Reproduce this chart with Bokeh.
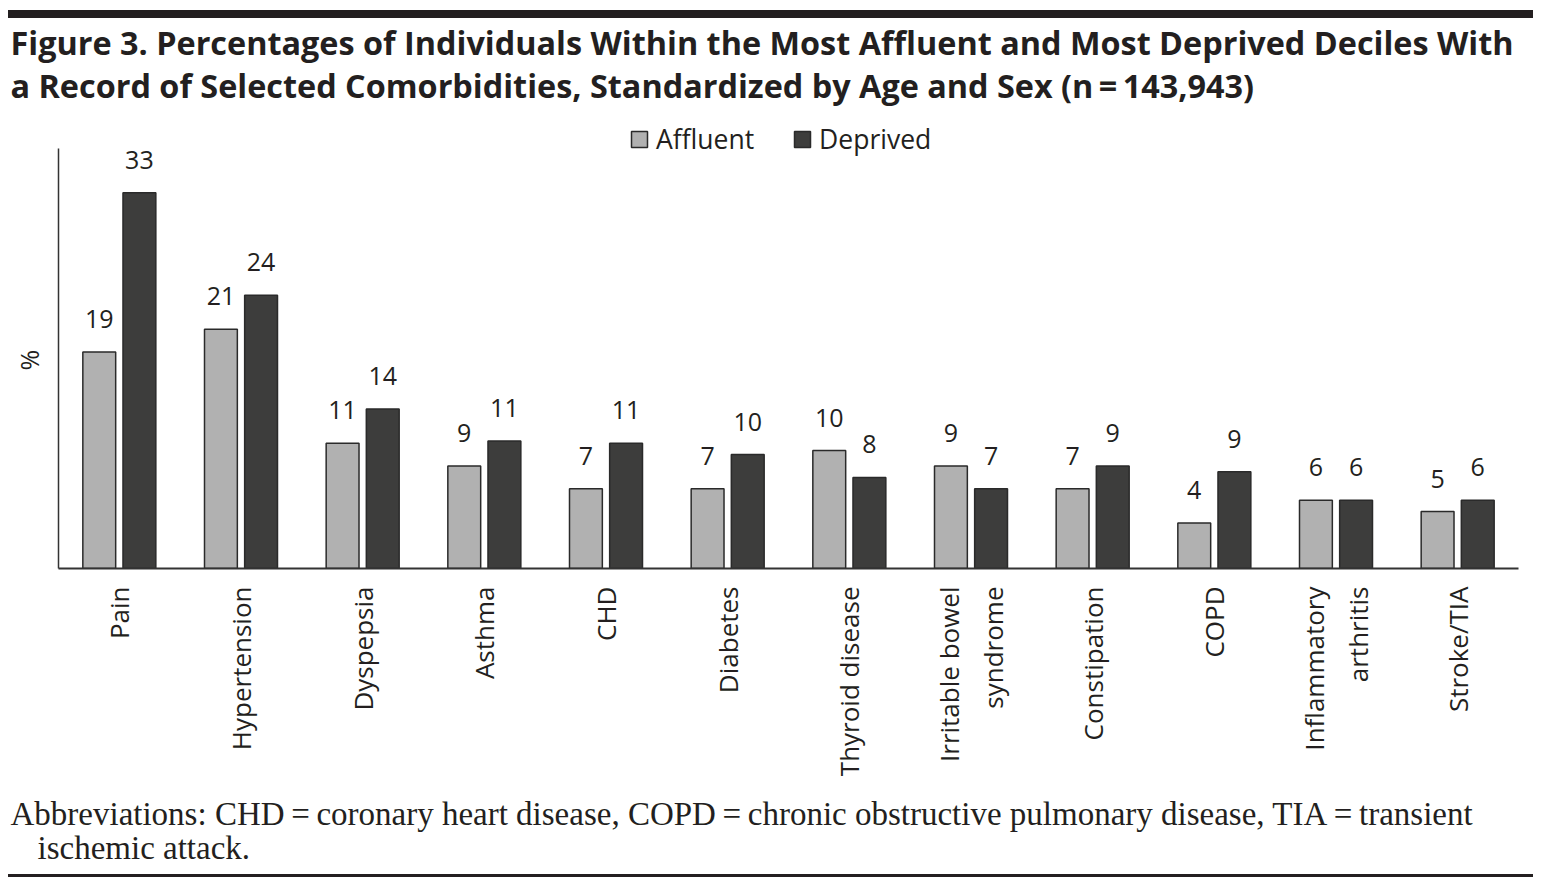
import math
from bokeh.plotting import figure
from bokeh.models import (ColumnDataSource, Legend, LegendItem, Range1d, FactorRange,
                          Spacer, Title, Label)
from bokeh.layouts import column, row
from bokeh.transform import dodge
from bokeh.core.properties import value
from bokeh.embed import file_html
from bokeh.resources import INLINE

categories = ["Pain", "Hypertension", "Dyspepsia", "Asthma", "CHD", "Diabetes",
              "Thyroid disease", "Irritable bowel\nsyndrome", "Constipation", "COPD",
              "Inflammatory\narthritis", "Stroke/TIA"]
affluent = [19, 21, 11, 9, 7, 7, 10.35, 9, 7, 4, 6, 5]
deprived = [33, 24, 14, 11.2, 11, 10, 8, 7, 9, 8.5, 6, 6]
affluent_labels = ["19", "21", "11", "9", "7", "7", "10", "9", "7", "4", "6", "5"]
deprived_labels = ["33", "24", "14", "11", "11", "10", "8", "7", "9", "9", "6", "6"]

title_1 = "Figure 3. Percentages of Individuals Within the Most Affluent and Most Deprived Deciles With"
title_2 = "a Record of Selected Comorbidities, Standardized by Age and Sex (n\u2009=\u2009143,943)"
foot_1 = "Abbreviations: CHD\u2009=\u2009coronary heart disease, COPD\u2009=\u2009chronic obstructive pulmonary disease, TIA\u2009=\u2009transient"
foot_2 = "ischemic attack."

SANS = "Open Sans"
SERIF = "Liberation Serif"
INK = "#231f20"
C_AFF = "#b1b1b1"
C_DEP = "#3d3d3c"
EDGE = "#2a2a2a"

WT = 1525   # text blocks start at page x = 8
WP = 1533   # chart starts at page x = 0


def text_panel(height, lines):
    f = figure(width=WT, height=height, x_range=Range1d(0, 1), y_range=Range1d(0, 1),
               output_backend="svg", toolbar_location=None,
               x_axis_location=None, y_axis_location=None,
               min_border_left=0, min_border_right=0, min_border_top=0, min_border_bottom=0)
    f.outline_line_color = None
    f.grid.grid_line_color = None
    for txt, x, y, font, style, size in lines:
        f.add_layout(Label(x=x, y=y, x_units="screen", y_units="screen", text=txt,
                           text_font=font, text_font_style=style, text_font_size=size,
                           text_color=INK, text_baseline="alphabetic", text_align="left"))
    return f


title_fig = text_panel(100, [(title_1, 2, 77, SANS, "bold", "32.4px"),
                             (title_2, 2, 34, SANS, "bold", "32.4px")])

src = ColumnDataSource(dict(cat=categories, aff=affluent, dep=deprived,
                            aff_lab=affluent_labels, dep_lab=deprived_labels))

p = figure(x_range=FactorRange(*categories, range_padding=0), y_range=Range1d(0, 39.51),
           width=WP, height=670, output_backend="svg", toolbar_location=None,
           min_border_left=58, min_border_right=15, min_border_top=0, min_border_bottom=220)
p.outline_line_color = None
p.grid.grid_line_color = None

r_aff = p.vbar(x=dodge("cat", -0.165, range=p.x_range), top="aff", width=0.27, source=src,
               fill_color=C_AFF, line_color=EDGE, line_width=1.5)
r_dep = p.vbar(x=dodge("cat", 0.165, range=p.x_range), top="dep", width=0.27, source=src,
               fill_color=C_DEP, line_color=EDGE, line_width=1.5)

p.text(x=dodge("cat", -0.165, range=p.x_range), y="aff", text="aff_lab", source=src,
       text_align="center", text_baseline="alphabetic", y_offset=-33,
       text_font=value(SANS), text_font_size="25px", text_color=INK)
p.text(x=dodge("cat", 0.165, range=p.x_range), y="dep", text="dep_lab", source=src,
       text_align="center", text_baseline="alphabetic", y_offset=-33,
       text_font=value(SANS), text_font_size="25px", text_color=INK)

xa = p.xaxis[0]
xa.major_label_orientation = math.pi / 2
xa.major_tick_line_color = None
xa.major_tick_out = 0
xa.major_tick_in = 0
xa.minor_tick_line_color = None
xa.major_label_standoff = 18
xa.major_label_text_font = SANS
xa.major_label_text_font_size = "26px"
xa.major_label_text_color = INK
xa.axis_line_color = "#333333"
xa.axis_line_width = 2

ya = p.yaxis[0]
ya.ticker = []
ya.bounds = (0, 36.9)
ya.major_tick_out = 0
ya.major_tick_in = 0
ya.major_label_standoff = 0
ya.axis_line_color = "#333333"
ya.axis_line_width = 1.5

p.add_layout(Title(text="%", align="left", offset=198, standoff=21, vertical_align="top",
                   text_font=SANS, text_font_style="normal", text_font_size="25px",
                   text_color=INK), "left")

legend = Legend(items=[LegendItem(label="Affluent", renderers=[r_aff]),
                       LegendItem(label="Deprived", renderers=[r_dep])],
                location=(571, 411), orientation="horizontal",
                label_text_font=SANS, label_text_font_size="26.5px", label_text_color=INK,
                glyph_width=20, glyph_height=20, label_standoff=7, spacing=38,
                padding=0, margin=0, border_line_color=None, background_fill_alpha=0)
p.add_layout(legend, "center")

foot_fig = text_panel(86, [(foot_1, 2, 61, SERIF, "normal", "33px"),
                           (foot_2, 29, 27, SERIF, "normal", "33px")])

top_line = Spacer(width=WT, height=8, styles={"background-color": INK})
bottom_line = Spacer(width=WT, height=3, styles={"background-color": INK})


def indent(obj):
    return row(Spacer(width=8, height=1), obj, spacing=0)


page = column(Spacer(width=WP, height=10), indent(top_line), indent(title_fig), p,
              indent(foot_fig), indent(bottom_line), spacing=0)
open("out.html", "w").write(file_html(page, INLINE))
